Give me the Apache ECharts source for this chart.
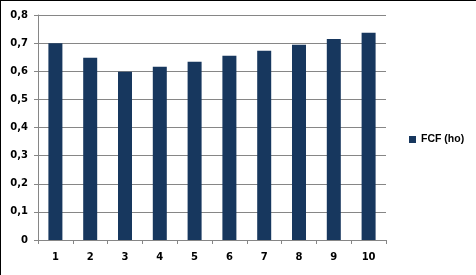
<!DOCTYPE html>
<html><head><meta charset="utf-8">
<script src="https://cdn.jsdelivr.net/npm/echarts@6/dist/echarts.min.js"></script>
<style>
html,body{margin:0;padding:0;background:#fff;}
#wrap{position:absolute;left:0;top:0;width:476px;height:275px;box-sizing:border-box;border-top:1px solid #000;border-left:1px solid #000;}
#c{position:absolute;left:-1px;top:-1px;width:476px;height:275px;}
</style></head>
<body><div id="wrap"><div id="c"></div></div>
<script>
const categories = ['1','2','3','4','5','6','7','8','9','10'];
const fcfValues = [0.70, 0.648, 0.598, 0.616, 0.634, 0.655, 0.673, 0.694, 0.715, 0.737];
const yTicks = ['0','0,1','0,2','0,3','0,4','0,5','0,6','0,7','0,8'];
const seriesName = 'FCF (ho)';

const chart = echarts.init(document.getElementById('c'), null, {renderer:'canvas'});
const lblFont = {fontFamily:'DejaVu Sans', fontWeight:'bold', fontSize:10, color:'#000'};
chart.setOption({
  animation:false,
  backgroundColor:'transparent',
  grid:{left:38, right:90, top:15, bottom:35},
  legend:{
    data:[seriesName], left:404, top:129, orient:'vertical',
    itemWidth:7, itemHeight:7, itemGap:0, icon:'rect',
    textStyle:{fontFamily:'Liberation Sans', fontWeight:'bold', fontSize:10.5, color:'#000'}
  },
  xAxis:{
    type:'category', data:categories, boundaryGap:true,
    axisLine:{lineStyle:{color:'#868686', width:1}},
    axisTick:{show:true, alignWithLabel:false, length:4, lineStyle:{color:'#868686'}},
    axisLabel:Object.assign({margin:12}, lblFont),
    splitLine:{show:false}
  },
  yAxis:{
    type:'value', min:0, max:0.8, interval:0.1,
    axisLine:{show:true, lineStyle:{color:'#868686', width:1}},
    axisTick:{show:true, length:4, lineStyle:{color:'#868686'}},
    axisLabel:Object.assign({margin:10, formatter:function(v){return yTicks[Math.round(v*10)];}}, lblFont),
    splitLine:{show:true, lineStyle:{color:'#868686', width:1}}
  },
  series:[{
    name:seriesName, type:'bar', data:fcfValues, barWidth:14,
    itemStyle:{color:'#17375E'}
  }]
});
</script>
</body></html>
